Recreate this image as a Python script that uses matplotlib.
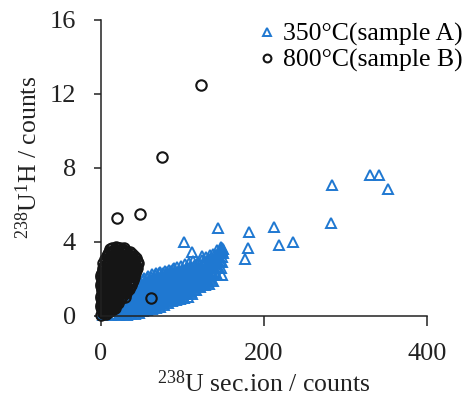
import matplotlib
matplotlib.use("Agg")
import matplotlib.pyplot as plt

# sample A (350 C): 238U sec.ion counts vs 238U1H counts
tri_x = [
    2, 3, 4, 7, 8, 9, 12, 13, 14, 17, 18, 19,
    22, 23, 24, 23, 27, 28, 29, 28,
    32, 33, 34, 33, 32, 37, 38, 39, 38, 37,
    42, 43, 44, 43, 42, 44, 47, 48, 49, 48, 47, 49,
    52, 53, 54, 53, 52, 54, 53, 57, 58, 59, 58, 57, 59, 58,
    62, 63, 64, 63, 62, 64, 63, 67, 68, 69, 68, 67, 69, 68,
    72, 73, 74, 73, 72, 74, 73, 77, 78, 79, 78, 77, 79, 78,
    82, 83, 84, 83, 82, 84, 83, 87, 88, 89, 88, 87, 89, 88,
    92, 93, 94, 93, 92, 94, 93, 97, 98, 99, 98, 97, 99, 98,
    102, 103, 104, 103, 102, 104, 103, 107, 108, 109, 108, 107, 109, 108,
    112, 113, 114, 113, 112, 114, 113, 117, 118, 119, 118, 117, 119,
    122, 123, 124, 123, 122, 124, 127, 128, 129, 128, 127, 129,
    132, 133, 134, 133, 132, 134, 137, 138, 139, 138, 137,
    142, 143, 144, 143, 142, 147, 148, 149, 148, 147, 150,
    25, 26, 25, 30, 31, 30, 31, 35, 36, 35, 36,
    40, 41, 40, 41, 40, 45, 46, 45, 46, 45,
    50, 51, 50, 51, 50, 51, 55, 56, 55, 56, 55, 56,
    60, 61, 60, 61, 60, 61, 65, 66, 65, 66, 65, 66,
    70, 71, 70, 71, 70, 71, 75, 76, 75, 76, 75, 76,
    80, 81, 80, 81, 80, 81, 85, 86, 85, 86, 85, 86,
    90, 91, 90, 91, 90, 95, 96, 95, 96, 95,
    100, 101, 100, 101, 100, 105, 106, 105, 106, 105,
    110, 111, 110, 111, 110, 115, 116, 115, 116, 115,
    120, 121, 120, 121, 125, 126, 125, 126,
    130, 131, 130, 131, 135, 136, 135, 136,
    140, 141, 140, 141, 145, 146, 145,
    102, 112, 124, 135, 121, 105, 148, 90, 105, 118, 146, 149, 150, 147,
    143, 181, 212, 219, 236, 180, 177, 283, 282, 330, 341, 352,
]
tri_y = [
    0.05, 0.15, 0.25, 0.1, 0.3, 0.45, 0.05, 0.3, 0.55, 0.1, 0.35, 0.65,
    0.05, 0.3, 0.6, 0.9, 0.1, 0.4, 0.7, 1.05,
    0.05, 0.35, 0.65, 0.95, 1.25, 0.1, 0.4, 0.75, 1.05, 1.4,
    0.1, 0.4, 0.7, 1.0, 1.3, 1.65, 0.15, 0.45, 0.8, 1.1, 1.45, 1.8,
    0.25, 0.55, 0.85, 1.2, 1.5, 1.85, 2.05, 0.3, 0.6, 0.95, 1.3, 1.6, 1.9, 2.15,
    0.4, 0.7, 1.0, 1.35, 1.7, 2.0, 2.25, 0.45, 0.75, 1.1, 1.4, 1.75, 2.05, 2.35,
    0.5, 0.85, 1.15, 1.5, 1.85, 2.15, 2.4, 0.6, 0.9, 1.2, 1.55, 1.9, 2.2, 2.45,
    0.7, 1.0, 1.3, 1.65, 1.95, 2.25, 2.5, 0.8, 1.1, 1.4, 1.75, 2.05, 2.35, 2.55,
    0.85, 1.15, 1.5, 1.8, 2.1, 2.4, 2.65, 0.9, 1.2, 1.55, 1.9, 2.2, 2.5, 2.7,
    0.95, 1.3, 1.6, 1.95, 2.25, 2.55, 2.8, 1.05, 1.35, 1.7, 2.0, 2.3, 2.6, 2.85,
    1.2, 1.5, 1.8, 2.1, 2.4, 2.7, 2.95, 1.4, 1.7, 2.0, 2.3, 2.6, 2.9,
    1.55, 1.85, 2.15, 2.45, 2.75, 3.05, 1.65, 2.0, 2.3, 2.6, 2.9, 3.2,
    1.75, 2.1, 2.45, 2.8, 3.1, 3.3, 1.9, 2.3, 2.65, 3.0, 3.35,
    2.2, 2.6, 2.95, 3.3, 3.55, 2.6, 2.9, 3.2, 3.5, 3.75, 3.6,
    0.2, 0.5, 0.8, 0.2, 0.55, 0.85, 1.15, 0.2, 0.5, 0.85, 1.2,
    0.25, 0.55, 0.85, 1.15, 1.5, 0.3, 0.6, 0.9, 1.25, 1.6,
    0.35, 0.7, 1.0, 1.35, 1.7, 1.95, 0.45, 0.75, 1.05, 1.4, 1.75, 2.05,
    0.5, 0.85, 1.15, 1.5, 1.85, 2.1, 0.55, 0.9, 1.25, 1.55, 1.9, 2.2,
    0.65, 1.0, 1.3, 1.65, 2.0, 2.3, 0.7, 1.05, 1.35, 1.7, 2.05, 2.35,
    0.8, 1.1, 1.45, 1.8, 2.1, 2.4, 0.9, 1.2, 1.55, 1.9, 2.2, 2.45,
    0.95, 1.3, 1.6, 1.95, 2.25, 1.0, 1.35, 1.7, 2.05, 2.35,
    1.1, 1.45, 1.75, 2.1, 2.45, 1.2, 1.5, 1.85, 2.15, 2.5,
    1.3, 1.6, 1.95, 2.25, 2.55, 1.4, 1.75, 2.05, 2.4, 2.75,
    1.6, 1.95, 2.3, 2.6, 1.7, 2.05, 2.4, 2.75,
    1.85, 2.2, 2.55, 2.9, 2.0, 2.35, 2.7, 3.05,
    2.3, 2.65, 3.0, 3.3, 2.6, 2.95, 3.25,
    4.0, 3.45, 3.25, 2.75, 1.8, 1.6, 2.2, 2.6, 2.65, 2.6, 3.45, 3.65, 3.4, 3.55,
    4.75, 4.55, 4.8, 3.85, 4.0, 3.7, 3.1, 7.1, 5.05, 7.6, 7.6, 6.85,
]

# sample B (800 C)
circ_x = [
    0.5, 3, 6, 9,
    1, 4, 8, 12, 15,
    0.5, 3, 7, 11, 15, 19,
    1, 5, 9, 14, 18, 23,
    0.5, 4, 8, 12, 17, 21, 26, 29,
    1, 5, 10, 15, 19, 24, 28, 32,
    0.5, 3, 7, 12, 17, 22, 27, 31, 35,
    1, 5, 10, 15, 20, 25, 30, 34, 38,
    0.5, 3, 8, 13, 18, 23, 28, 32, 36, 40,
    1, 5, 10, 15, 20, 25, 30, 34, 38, 42,
    2, 7, 12, 17, 22, 27, 32, 36, 40, 44,
    3, 8, 13, 18, 23, 28, 33, 37, 41, 45,
    5, 10, 15, 20, 25, 30, 35, 39, 43,
    8, 13, 18, 23, 28, 33, 38,
    11, 16, 21, 26, 31,
    2, 5, 8, 11,
    0.5, 3, 6, 10, 13, 17,
    1, 5, 9, 13, 17, 21,
    0.5, 3, 7, 11, 16, 20, 25,
    2, 6, 10, 14, 19, 23, 28, 31,
    1, 3, 8, 13, 17, 22, 26, 30, 34,
    0.5, 5, 9, 14, 19, 24, 29, 33, 37,
    2, 6, 11, 16, 21, 26, 31, 35, 39,
    0.5, 4, 9, 14, 19, 24, 29, 33, 37, 41,
    2, 7, 12, 17, 22, 27, 32, 36, 40, 43,
    4, 9, 14, 19, 24, 29, 34, 38, 42,
    6, 11, 16, 21, 26, 31, 36, 40, 44,
    7, 12, 17, 22, 27, 32, 37, 41,
    10, 15, 20, 25, 30, 35,
    13, 18, 23, 28,
    20, 48, 75, 123, 61,
]
circ_y = [
    0.05, 0.15, 0.1, 0.2,
    0.35, 0.3, 0.4, 0.35, 0.4,
    0.6, 0.55, 0.65, 0.6, 0.55, 0.65,
    0.85, 0.9, 0.8, 0.9, 0.85, 0.9,
    1.1, 1.05, 1.15, 1.1, 1.05, 1.15, 1.1, 1.05,
    1.35, 1.4, 1.3, 1.35, 1.4, 1.3, 1.35, 1.4,
    1.6, 1.55, 1.65, 1.6, 1.55, 1.65, 1.6, 1.55, 1.6,
    1.85, 1.9, 1.8, 1.85, 1.9, 1.8, 1.85, 1.9, 1.85,
    2.1, 2.05, 2.15, 2.1, 2.05, 2.15, 2.1, 2.05, 2.15, 2.1,
    2.35, 2.4, 2.3, 2.35, 2.4, 2.3, 2.35, 2.4, 2.3, 2.35,
    2.6, 2.55, 2.65, 2.6, 2.55, 2.65, 2.6, 2.55, 2.65, 2.6,
    2.85, 2.9, 2.8, 2.85, 2.9, 2.8, 2.85, 2.9, 2.8, 2.85,
    3.1, 3.05, 3.15, 3.1, 3.05, 3.15, 3.1, 3.05, 3.15,
    3.35, 3.4, 3.3, 3.35, 3.4, 3.3, 3.35,
    3.6, 3.55, 3.65, 3.6, 3.5,
    0.22, 0.25, 0.2, 0.25,
    0.47, 0.5, 0.45, 0.5, 0.47, 0.45,
    0.72, 0.75, 0.7, 0.75, 0.72, 0.7,
    0.97, 1.0, 0.95, 1.0, 0.97, 0.95, 1.0,
    1.22, 1.25, 1.2, 1.25, 1.22, 1.2, 1.25, 1.22,
    1.47, 1.5, 1.45, 1.5, 1.47, 1.45, 1.5, 1.47, 1.45,
    1.72, 1.75, 1.7, 1.75, 1.72, 1.7, 1.75, 1.72, 1.7,
    1.97, 2.0, 1.95, 2.0, 1.97, 1.95, 2.0, 1.97, 1.95,
    2.22, 2.25, 2.2, 2.25, 2.22, 2.2, 2.25, 2.22, 2.2, 2.25,
    2.47, 2.5, 2.45, 2.5, 2.47, 2.45, 2.5, 2.47, 2.45, 2.5,
    2.72, 2.75, 2.7, 2.75, 2.72, 2.7, 2.75, 2.72, 2.7,
    2.97, 3.0, 2.95, 3.0, 2.97, 2.95, 3.0, 2.97, 2.95,
    3.22, 3.25, 3.2, 3.25, 3.22, 3.2, 3.25, 3.22,
    3.47, 3.5, 3.45, 3.5, 3.47, 3.45,
    3.7, 3.72, 3.68, 3.7,
    5.3, 5.5, 8.6, 12.5, 1.0,
]

x_ticks = [0, 200, 400]
y_ticks = [0, 4, 8, 12, 16]

plt.rcParams["font.family"] = "Liberation Serif"
plt.rcParams["mathtext.fontset"] = "custom"
plt.rcParams["mathtext.rm"] = "Liberation Serif"
plt.rcParams["mathtext.default"] = "regular"

fig = plt.figure(figsize=(4.66, 3.99), dpi=100)
ax = fig.add_axes([101 / 466, 83 / 399, 326 / 466, 296 / 399])

ax.plot(tri_x, tri_y, linestyle="none", marker="^", markersize=7,
        markerfacecolor="none", markeredgecolor="#1f78d1",
        markeredgewidth=1.4, clip_on=False, label="350°C(sample A)")
ax.plot(circ_x, circ_y, linestyle="none", marker="o", markersize=7.5,
        markerfacecolor="none", markeredgecolor="#151515",
        markeredgewidth=1.5, clip_on=False, label="800°C(sample B)")

ax.set_xlim(0, 400)
ax.set_ylim(0, 16)
ax.set_xticks(x_ticks)
ax.set_yticks(y_ticks)
for s in ["top", "right"]:
    ax.spines[s].set_visible(False)
for s in ["left", "bottom"]:
    ax.spines[s].set_linewidth(1.1)
    ax.spines[s].set_color("#222222")
ax.tick_params(axis="x", direction="out", length=7, width=1.1,
               colors="#222222", labelsize=19, pad=12.5)
ax.tick_params(axis="y", direction="out", length=5, width=1.1,
               colors="#222222", labelsize=19, pad=13)

ax.set_xlabel("$^{238}$U sec.ion / counts", fontsize=18.5, color="#222222", labelpad=4)
ax.set_ylabel("$^{238}$U$^{1}$H / counts", fontsize=18.5, color="#222222")
ax.yaxis.set_label_coords(-0.181, 0.534)

ax.legend(loc="upper right", bbox_to_anchor=(1.036, 0.995),
          bbox_transform=fig.transFigure, frameon=False, fontsize=18.5,
          handletextpad=0.1, handlelength=1.0, labelspacing=0.1,
          markerscale=0.75, borderpad=0.3)

fig.savefig("out.png", dpi=100)
